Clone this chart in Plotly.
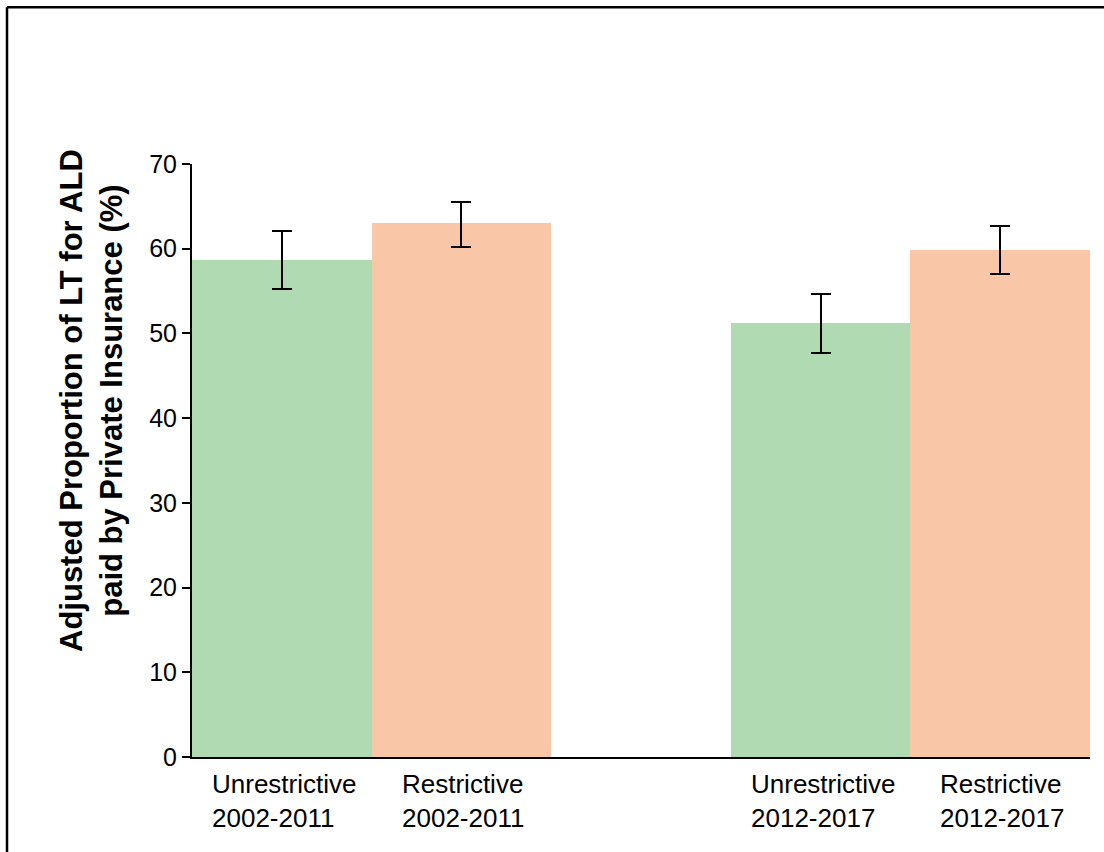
import plotly.graph_objects as go

# ---- data ----
categories = ["Unrestrictive<br>2002-2011", "Restrictive<br>2002-2011",
              "Unrestrictive<br>2012-2017", "Restrictive<br>2012-2017"]
positions = [0, 1, 3, 4]
values = [58.7, 63.0, 51.2, 59.9]
err_upper = [3.4, 2.5, 3.4, 2.8]
err_lower = [3.4, 2.8, 3.5, 2.9]
bar_colors = ["#B0DAB1", "#FAC6A8", "#B0DAB1", "#FAC6A8"]
y_ticks = [0, 10, 20, 30, 40, 50, 60, 70]
y_title = "<b>Adjusted Proportion of LT for ALD<br>paid by Private Insurance (%)</b>"

FONT = "Liberation Sans, Arial, sans-serif"

fig = go.Figure()
fig.add_trace(go.Bar(
    x=positions, y=values, width=1.0,
    marker=dict(color=bar_colors, line=dict(width=0)),
    error_y=dict(type="data", symmetric=False, array=err_upper, arrayminus=err_lower,
                 color="black", thickness=2, width=10),
    showlegend=False,
))

annotations = []
for p, c in zip(positions, categories):
    annotations.append(dict(
        x=p, xref="x", y=0, yref="paper", yanchor="top", xanchor="center",
        text=c, align="left", showarrow=False, yshift=-10, xshift=2,
        font=dict(family=FONT, size=26, color="black"),
    ))
annotations.append(dict(
    x=-0.1125, xref="paper", y=0.602, yref="paper", xanchor="center", yanchor="middle",
    text=y_title, textangle=-90, showarrow=False, align="center",
    font=dict(family=FONT, size=31, color="black"),
))

fig.update_layout(
    width=1104, height=852,
    margin=dict(l=192, r=14, t=164, b=94.5, pad=0),
    paper_bgcolor="white", plot_bgcolor="white",
    font=dict(family=FONT, size=24, color="black"),
    bargap=0,
    xaxis=dict(range=[-0.5, 4.5], showticklabels=False, ticks="", showgrid=False,
               zeroline=False, showline=True, linecolor="black", linewidth=2),
    yaxis=dict(range=[0, 70], tickvals=y_ticks, ticks="outside", ticklen=8,
               tickwidth=2, tickcolor="black", showgrid=False, zeroline=False,
               showline=True, linecolor="black", linewidth=2,
               tickfont=dict(family=FONT, size=25, color="black")),
    annotations=annotations,
    shapes=[
        dict(type="line", xref="paper", yref="paper", x0=-0.206, x1=1.03,
             y0=1.2645, y1=1.2645, line=dict(color="black", width=2.5)),
        dict(type="line", xref="paper", yref="paper", x0=-0.206, x1=-0.206,
             y0=1.2645, y1=-0.2, line=dict(color="black", width=2.5)),
    ],
)

fig.write_html("out.html", config={"displayModeBar": False},
               post_script="document.body.style.margin='0';document.body.style.padding='0';document.body.style.overflow='hidden';")
